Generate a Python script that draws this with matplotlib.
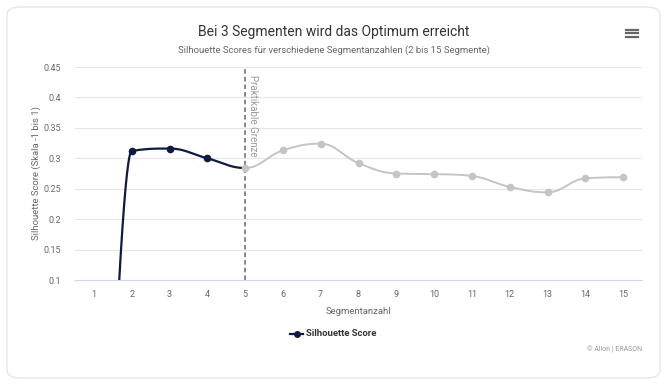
import matplotlib
matplotlib.use("Agg")
import matplotlib.pyplot as plt
from matplotlib.patches import FancyBboxPatch
from matplotlib.lines import Line2D
import numpy as np

plt.rcParams['font.family'] = ['Roboto', 'DejaVu Sans']

# ---- data ----
segments = [1, 2, 3, 4, 5, 6, 7, 8, 9, 10, 11, 12, 13, 14, 15]
scores = [-1.0, 0.312, 0.316, 0.300, 0.284, 0.313, 0.324, 0.292, 0.275, 0.274,
          0.271, 0.253, 0.244, 0.267, 0.269]
y_ticks = [0.1, 0.15, 0.2, 0.25, 0.3, 0.35, 0.4, 0.45]
y_tick_labels = ["0.1", "0.15", "0.2", "0.25", "0.3", "0.35", "0.4", "0.45"]
limit_x = 5
title = "Bei 3 Segmenten wird das Optimum erreicht"
subtitle = "Silhouette Scores für verschiedene Segmentanzahlen (2 bis 15 Segmente)"
x_title = "Segmentanzahl"
y_title = "Silhouette Score (Skala -1 bis 1)"
series_name = "Silhouette Score"
limit_label = "Praktikable Grenze"
credits = "© Allon | ERASON"

NAVY = "#0e1a40"
GREY = "#c4c4c4"

W, H = 670, 388
fig = plt.figure(figsize=(W / 100, H / 100), dpi=100)

# card
card = FancyBboxPatch((7 / W, 1 - 378 / H), (660 - 7) / W, (378 - 7) / H,
                      boxstyle="round,pad=0,rounding_size=0.02",
                      transform=fig.transFigure, facecolor="white",
                      edgecolor="#e6e6e6", linewidth=1.0, zorder=-1)
fig.patches.append(card)


def spline_path(xs, ys, smoothing=1.5):
    """Highcharts-like spline, returns dense sampled x, y."""
    n = len(xs)
    lc = [None] * n
    rc = [None] * n
    denom = smoothing + 1
    for i in range(1, n - 1):
        px, py = xs[i], ys[i]
        lx, ly = xs[i - 1], ys[i - 1]
        nx, ny = xs[i + 1], ys[i + 1]
        lcx = (smoothing * px + lx) / denom
        lcy = (smoothing * py + ly) / denom
        rcx = (smoothing * px + nx) / denom
        rcy = (smoothing * py + ny) / denom
        corr = ((rcy - lcy) * (rcx - px)) / (rcx - lcx) + py - rcy
        lcy += corr
        rcy += corr
        if lcy > ly and lcy > py:
            lcy = max(ly, py); rcy = 2 * py - lcy
        elif lcy < ly and lcy < py:
            lcy = min(ly, py); rcy = 2 * py - lcy
        if rcy > ny and rcy > py:
            rcy = max(ny, py); lcy = 2 * py - rcy
        elif rcy < ny and rcy < py:
            rcy = min(ny, py); lcy = 2 * py - rcy
        lc[i] = (lcx, lcy)
        rc[i] = (rcx, rcy)
    outx, outy = [], []
    t = np.linspace(0, 1, 200)
    for i in range(1, n):
        p0 = (xs[i - 1], ys[i - 1])
        p1 = rc[i - 1] if rc[i - 1] else p0
        p3 = (xs[i], ys[i])
        p2 = lc[i] if lc[i] else p3
        bx = ((1 - t) ** 3 * p0[0] + 3 * (1 - t) ** 2 * t * p1[0]
              + 3 * (1 - t) * t ** 2 * p2[0] + t ** 3 * p3[0])
        by = ((1 - t) ** 3 * p0[1] + 3 * (1 - t) ** 2 * t * p1[1]
              + 3 * (1 - t) * t ** 2 * p2[1] + t ** 3 * p3[1])
        outx.extend(bx); outy.extend(by)
    return np.array(outx), np.array(outy)


ax = fig.add_axes([75 / W, 1 - 280 / H, (642 - 75) / W, (280 - 67) / H])
ax.set_zorder(1)
ax.set_facecolor("none")
ax.set_xlim(0.5, 15.5)
ax.set_ylim(0.1, 0.45)

for yt in y_ticks[1:]:
    ax.axhline(yt, color="#e6e6e6", linewidth=0.8, zorder=1)
for s in ["top", "right", "left"]:
    ax.spines[s].set_visible(False)
ax.spines["bottom"].set_color("#ccd6eb")
ax.spines["bottom"].set_linewidth(0.8)

sx, sy = spline_path(segments, scores)
m1 = sx <= limit_x
m2 = sx >= limit_x
ax.plot(sx[m1], sy[m1], color=NAVY, linewidth=1.6, zorder=3, solid_capstyle="round")
ax.plot(sx[m2], sy[m2], color=GREY, linewidth=1.4, zorder=3, solid_capstyle="round")

for x, y in zip(segments, scores):
    ax.plot(x, y, marker="o", markersize=5.5, color=NAVY if x < limit_x else GREY,
            markeredgewidth=0, zorder=4, clip_on=True)

ax.axvline(limit_x, color="#666666", linewidth=1.1, linestyle=(0, (3, 2)), zorder=2)
ax.text(limit_x + 0.07, 0.437, limit_label, rotation=-90, ha="left", va="top",
        fontsize=7, color="#999999", zorder=5)

ax.set_xticks(segments)
ax.set_xticklabels([str(s) for s in segments], fontsize=6.5, color="#666666")
ax.set_yticks(y_ticks)
ax.set_yticklabels(y_tick_labels, fontsize=6.5, color="#666666")
ax.tick_params(axis="both", length=0)
ax.tick_params(axis="x", pad=7)
ax.tick_params(axis="y", pad=10)

ax.set_xlabel(x_title, fontsize=6.8, color="#666666", labelpad=6)
ax.set_ylabel(y_title, fontsize=6.8, color="#666666")
ax.yaxis.set_label_coords((41 - 75) / (642 - 75), 0.5)

fig.text(334 / W, 1 - 32 / H, title, ha="center", va="center", fontsize=10, color="#333333")
fig.text(334 / W, 1 - 50 / H, subtitle, ha="center", va="center", fontsize=6.8, color="#666666")

# hamburger menu icon
for dy in (-3.5, 0, 3.5):
    fig.add_artist(Line2D([626 / W, 638 / W], [1 - (33 + dy) / H] * 2,
                          color="#666666", linewidth=1.6, transform=fig.transFigure))

# legend
ly = 1 - 334 / H
fig.add_artist(Line2D([290 / W, 303 / W], [ly, ly], color=NAVY, linewidth=1.6,
                      transform=fig.transFigure))
fig.add_artist(Line2D([296.5 / W], [ly], marker="o", markersize=5, color=NAVY,
                      markeredgewidth=0, transform=fig.transFigure))
fig.text(306 / W, ly, series_name, ha="left", va="center", fontsize=6.8,
         fontweight="bold", color="#333333")

fig.text(642 / W, 1 - 350 / H, credits, ha="right", va="center", fontsize=5,
         color="#999999")

fig.savefig("out.png", dpi=100, facecolor="white")
